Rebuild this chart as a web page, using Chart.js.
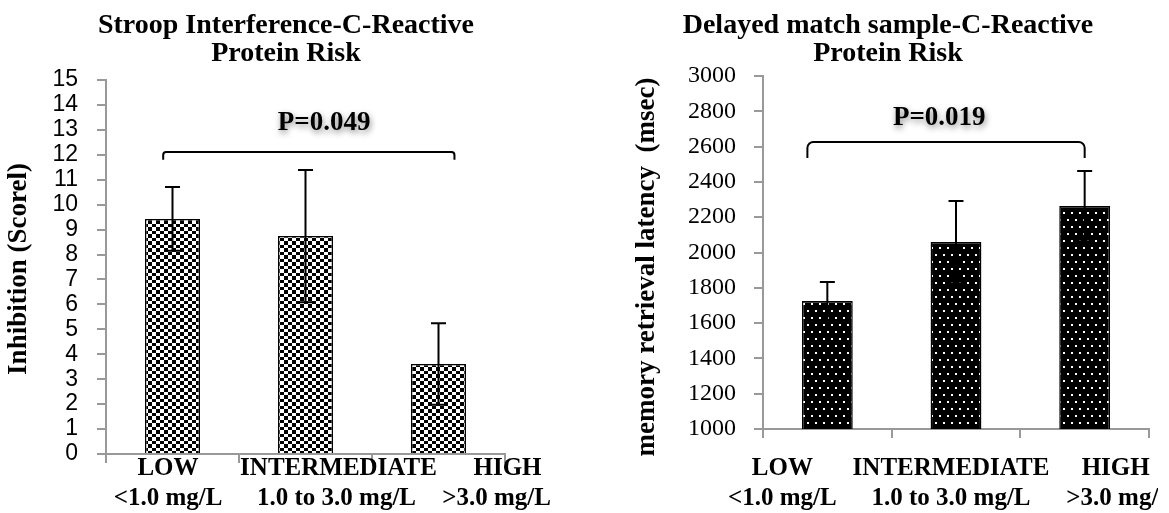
<!DOCTYPE html>
<html>
<head>
<meta charset="utf-8">
<script src="https://cdn.jsdelivr.net/npm/chart.js@4"></script>
<style>
  html, body { margin: 0; padding: 0; background: #fff; overflow: hidden; }
  #left { position: absolute; left: 0; top: 0; }
  #right { position: absolute; left: 590px; top: 0; }
</style>
</head>
<body>
<canvas id="left" width="580" height="513"></canvas>
<canvas id="right" width="568" height="513"></canvas>
<script>
// data
const categories = ["LOW", "INTERMEDIATE", "HIGH"];
const ranges = ["<1.0 mg/L", "1.0 to 3.0 mg/L", ">3.0 mg/L"];

const stroopValues = [9.43, 8.74, 3.61];
const stroopErrors = [1.28, 2.65, 1.63];
const stroopP = "P=0.049";

const dmsValues = [1725, 2059, 2263];
const dmsErrors = [108, 233, 199];
const dmsP = "P=0.019";

const serif = '"Liberation Serif", "Times New Roman", serif';
const grey = "#999";

function checkerPattern() {
  const c = document.createElement("canvas");
  c.width = 8; c.height = 7;
  const g = c.getContext("2d");
  g.fillStyle = "#fff"; g.fillRect(0, 0, 8, 7);
  g.fillStyle = "#000";
  g.fillRect(0, 0, 4, 3);
  g.fillRect(4, 3, 4, 4);
  return g.createPattern(c, "repeat");
}

function dotPattern() {
  const c = document.createElement("canvas");
  c.width = 8; c.height = 14;
  const g = c.getContext("2d");
  g.fillStyle = "#000"; g.fillRect(0, 0, 8, 14);
  g.fillStyle = "#fff";
  g.fillRect(1, 2, 2, 2);
  g.fillRect(5, 9, 2, 2);
  return g.createPattern(c, "repeat");
}

// draws error bars, bracket, p value and all the texts around the plot
function makeAnnotate(s) {
  return {
    id: "annotate",
    afterDatasetsDraw(chart) {
      const { ctx, scales: { x, y } } = chart;
      const meta = chart.getDatasetMeta(0);
      ctx.save();
      ctx.strokeStyle = "#000";
      ctx.lineWidth = 2;
      meta.data.forEach((bar, i) => {
        const top = y.getPixelForValue(s.values[i] + s.errors[i]);
        const bot = y.getPixelForValue(s.values[i] - s.errors[i]);
        ctx.beginPath();
        ctx.moveTo(bar.x, top); ctx.lineTo(bar.x, bot);
        ctx.moveTo(bar.x - 7.5, top); ctx.lineTo(bar.x + 7.5, top);
        ctx.moveTo(bar.x - 7.5, bot); ctx.lineTo(bar.x + 7.5, bot);
        ctx.stroke();
      });

      const x1 = x.getPixelForValue(s.bracket[0]);
      const x2 = x.getPixelForValue(s.bracket[1]);
      const yt = y.getPixelForValue(s.bracket[2]);
      const ye = y.getPixelForValue(s.bracket[3]);
      const r = s.radius;
      ctx.beginPath();
      ctx.moveTo(x1, ye);
      ctx.arcTo(x1, yt, x1 + r, yt, r);
      ctx.arcTo(x2, yt, x2, ye, r);
      ctx.lineTo(x2, ye);
      ctx.stroke();

      ctx.save();
      ctx.font = "bold 27px " + serif;
      ctx.fillStyle = "#000";
      ctx.textAlign = "center";
      ctx.textBaseline = "middle";
      ctx.shadowColor = "rgba(0,0,0,0.45)";
      ctx.shadowBlur = 6;
      ctx.shadowOffsetX = 1;
      ctx.shadowOffsetY = 3;
      ctx.fillText(s.p, x.getPixelForValue(s.pAt[0]), y.getPixelForValue(s.pAt[1]));
      ctx.restore();
      ctx.restore();
    },
    afterDraw(chart) {
      const { ctx, scales: { x } } = chart;
      ctx.save();
      ctx.fillStyle = "#000";
      ctx.textAlign = "center";
      ctx.textBaseline = "alphabetic";
      ctx.font = "bold 28px " + serif;
      ctx.fillText(s.title[0], s.titleX, 33);
      ctx.fillText(s.title[1], s.titleX, 61);

      ctx.font = "bold 25px " + serif;
      categories.forEach((c, i) => {
        const cx = x.getPixelForValue(i);
        ctx.fillText(c, cx + s.shift1[i], 475);
        ctx.fillText(ranges[i], cx + s.shift2[i], 505);
      });

      ctx.save();
      ctx.translate(s.yLabelAt[0], s.yLabelAt[1]);
      ctx.rotate(-Math.PI / 2);
      ctx.font = "bold 27px " + serif;
      ctx.textBaseline = "middle";
      ctx.fillText(s.yLabel, 0, 0);
      ctx.restore();
      ctx.restore();
    }
  };
}

function makeChart(id, o) {
  const ctx = document.getElementById(id);
  return new Chart(ctx, {
    type: "bar",
    data: {
      labels: categories,
      datasets: [{
        data: o.values,
        backgroundColor: o.fill,
        borderColor: "#000",
        borderWidth: 1.5,
        barPercentage: o.barPct,
        categoryPercentage: 1
      }]
    },
    options: {
      responsive: false,
      animation: false,
      devicePixelRatio: 1,
      layout: { padding: { top: o.top, right: o.right, left: 0, bottom: 0 } },
      plugins: { legend: { display: false }, tooltip: { enabled: false } },
      scales: {
        x: {
          afterFit: (sc) => { sc.height = o.xHeight; },
          ticks: { display: false },
          grid: { drawOnChartArea: false, tickLength: 9, color: grey, lineWidth: 2 },
          border: { color: grey, width: 2 }
        },
        y: {
          min: o.min, max: o.max,
          afterFit: (sc) => { sc.width = o.yWidth; },
          ticks: {
            stepSize: o.step, autoSkip: false, padding: o.tickPad,
            color: "#000", font: o.tickFont,
            callback: (v) => String(v)
          },
          grid: { drawOnChartArea: false, tickLength: 9, color: grey, lineWidth: 2 },
          border: { color: grey, width: 2 }
        }
      }
    },
    plugins: [makeAnnotate(o.notes)]
  });
}

makeChart("left", {
  values: stroopValues, fill: checkerPattern(), barPct: 0.414,
  min: 0, max: 15, step: 1,
  top: 80, right: 75, xHeight: 59, yWidth: 106, tickPad: 19,
  tickFont: { family: '"Liberation Sans", Arial, sans-serif', size: 23, lineHeight: 1 },
  notes: {
    values: stroopValues, errors: stroopErrors,
    bracket: [-0.07, 2.12, 12.11, 11.8], radius: 3,
    p: stroopP, pAt: [1.14, 13.28],
    title: ["Stroop Interference-C-Reactive", "Protein Risk"], titleX: 286,
    yLabel: "Inhibition (Scorel)", yLabelAt: [19, 269],
    shift1: [-4.5, 33, 69], shift2: [-4.5, 31, 58]
  }
});

makeChart("right", {
  values: dmsValues, fill: dotPattern(), barPct: 0.395,
  min: 1000, max: 3000, step: 200,
  top: 76, right: 9, xHeight: 84, yWidth: 173, tickPad: 18,
  tickFont: { family: serif, size: 24, lineHeight: 1 },
  notes: {
    values: dmsValues, errors: dmsErrors,
    bracket: [-0.155, 2.0, 2626, 2535], radius: 6,
    p: dmsP, pAt: [0.87, 2762],
    title: ["Delayed match sample-C-Reactive", "Protein Risk"], titleX: 298,
    yLabel: "memory retrieval latency  (msec)", yLabelAt: [57, 267],
    shift1: [-45, -5, 31], shift2: [-45, -5, 36]
  }
});
</script>
</body>
</html>
